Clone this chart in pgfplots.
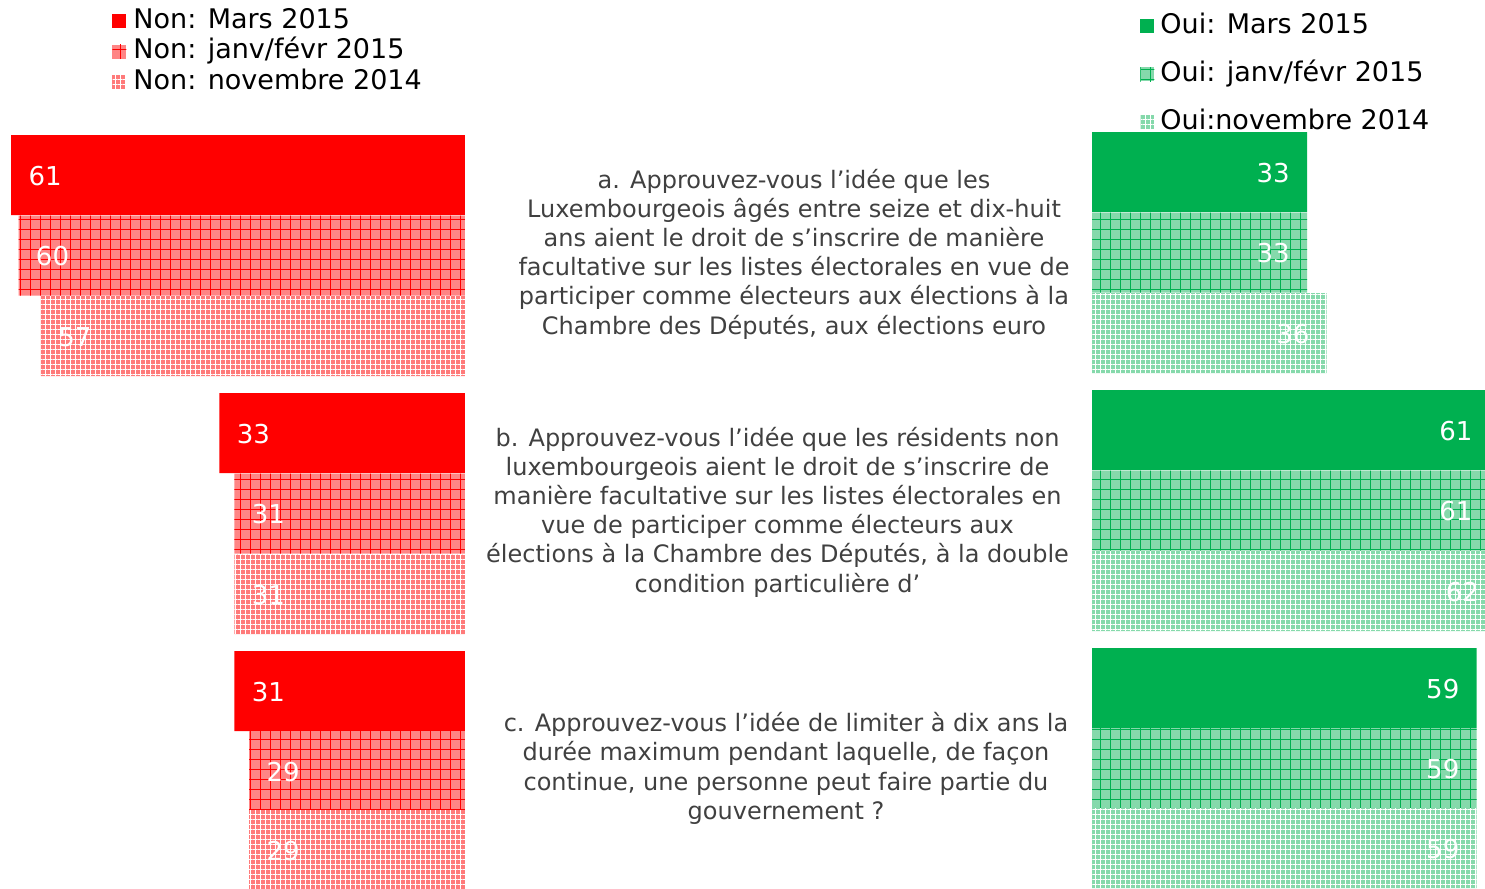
\documentclass[border=0pt]{standalone}
\usepackage{fontspec}
\setmainfont{DejaVu Sans}
\usepackage{pgfplots}
\pgfplotsset{compat=1.18}
\usetikzlibrary{patterns.meta}
\definecolor{nonred}{HTML}{FF0000}
\definecolor{ouigreen}{HTML}{00B050}
\definecolor{qtext}{HTML}{404040}
\begin{document}
\begin{tikzpicture}[x=1pt,y=1pt]
\pgfplotsset{
  barbase/.style={
    scale only axis, hide axis, height=444.5pt, ymin=0, ymax=889, y dir=reverse, xmin=0, clip=false,
    /pgf/number format/assume math mode=true,
    point meta=x,
    nodes near coords,
    nodes near coords style={font=\fontsize{13}{15}\selectfont, text=white, inner sep=0pt, yshift=-0.5pt},
    legend cell align=left,
    legend style={draw=none, fill=none, inner sep=0pt, anchor=north west,
      font=\fontsize{13.5}{16}\selectfont,
      nodes={inner sep=0pt, text height=10pt, text depth=3pt}},
    legend image code/.code={\path[##1,draw=none] (0pt,-3.5pt) rectangle (7pt,3.5pt);},
  },
  nonjan/.style={fill=nonred!48!white, draw=none, postaction={pattern={Hatch[angle=0,distance=5pt,line width=0.4pt]}, pattern color=nonred}},
  nonnov/.style={fill=nonred!52!white, draw=none, postaction={pattern={Hatch[angle=0,distance=2.5pt,line width=0.4pt]}, pattern color=white}},
  ouijan/.style={fill=ouigreen!48!white, draw=none, postaction={pattern={Hatch[angle=0,distance=5pt,line width=0.4pt]}, pattern color=ouigreen}},
  ouinov/.style={fill=ouigreen!48!white, draw=none, postaction={pattern={Hatch[angle=0,distance=2.5pt,line width=0.4pt]}, pattern color=white}},
}
% ---- Non (left, growing leftwards)
\begin{axis}[barbase, at={(0pt,0pt)}, anchor=south west, width=232.5pt, xmax=62.5, x dir=reverse,
  nodes near coords style={anchor=west, xshift=8.5pt},
  legend style={at={(0.2409,0.9912)}, row sep=2.25pt, column sep=3.5pt}]
\addplot[xbar, bar shift=0pt, bar width=80, fill=nonred, draw=none]
  coordinates {(61,175) (33,433) (31,691)};
\addlegendentry{Non: Mars 2015}
\addplot[xbar, bar shift=0pt, bar width=80, nonjan]
  coordinates {(60,255.5) (31,513.5) (29,771)};
\addlegendentry{Non: janv/févr 2015}
\addplot[xbar, bar shift=0pt, bar width=80, nonnov]
  coordinates {(57,336) (31,594) (29,850)};
\addlegendentry{Non: novembre 2014}
\end{axis}
% ---- Oui (right, growing rightwards; bars beyond the page edge are cropped)
\begin{axis}[barbase, at={(546pt,0pt)}, anchor=south west, width=205.4pt, xmax=63,
  nodes near coords style={anchor=east, xshift=-8.5pt},
  legend style={at={(0.1168,0.9855)}, row sep=11pt, column sep=3pt}]
\addplot[xbar, bar shift=0pt, bar width=80, fill=ouigreen, draw=none]
  coordinates {(33,172) (61,430) (59,688)};
\addlegendentry{Oui: Mars 2015}
\addplot[xbar, bar shift=0pt, bar width=80, ouijan]
  coordinates {(33,252.5) (61,510.5) (59,768)};
\addlegendentry{Oui: janv/févr 2015}
\addplot[xbar, bar shift=0pt, bar width=80, ouinov]
  coordinates {(36,333) (62,591) (59,848)};
\addlegendentry{Oui:novembre 2014}
\end{axis}
% ---- questions
\begin{scope}[every node/.style={align=center, text=qtext, font=\fontsize{12}{14.6}\selectfont, inner sep=0pt}]
\node at (397pt,317.5pt) {a. Approuvez-vous l’idée que les\\Luxembourgeois âgés entre seize et dix-huit\\ans aient le droit de s’inscrire de manière\\facultative sur les listes électorales en vue de\\participer comme électeurs aux élections à la\\Chambre des Députés, aux élections euro};
\node at (388.75pt,188.5pt) {b. Approuvez-vous l’idée que les résidents non\\luxembourgeois aient le droit de s’inscrire de\\manière facultative sur les listes électorales en\\vue de participer comme électeurs aux\\élections à la Chambre des Députés, à la double\\condition particulière d’};
\node at (393pt,60.25pt) {c. Approuvez-vous l’idée de limiter à dix ans la\\durée maximum pendant laquelle, de façon\\continue, une personne peut faire partie du\\gouvernement ?};
\end{scope}
\pgfresetboundingbox
\useasboundingbox (0pt,0pt) rectangle (742.5pt,444.5pt);
\end{tikzpicture}
\end{document}
